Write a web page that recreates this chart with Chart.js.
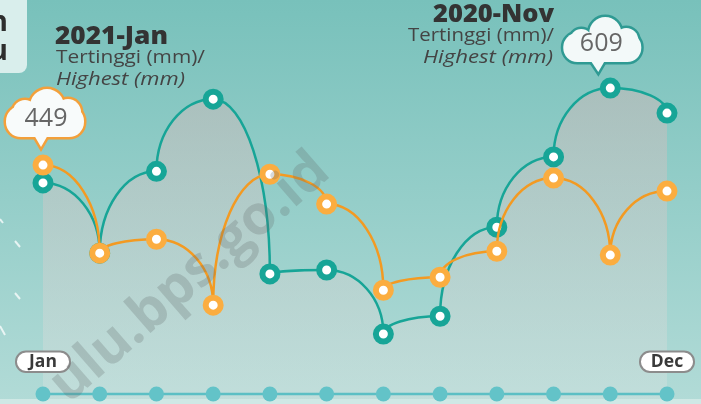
<!DOCTYPE html>
<html><head><meta charset="utf-8">
<script src="https://cdn.jsdelivr.net/npm/chart.js@4.4.1/dist/chart.umd.min.js"></script>
<style>html,body{margin:0;padding:0;background:#7cc3bd;overflow:hidden}#wrap{position:relative;width:701px;height:404px}</style>
</head><body><div id="wrap"><canvas id="c" width="701" height="404"></canvas></div>
<script>
// ---- data (mm) ----
const months = ['Jan','Feb','Mar','Apr','May','Jun','Jul','Aug','Sep','Oct','Nov','Dec'];
const highest2020 = [412, 266, 436, 586, 223, 231, 98, 135, 320, 466, 609, 557];   // teal
const highest2021 = [449, 266, 295, 158, 430, 368, 189, 216, 270, 422, 262, 395];   // orange
const yMin = -39, yMax = 792;

const FONT = '"Open Sans", "Noto Sans", sans-serif';
const TEAL = '#17a597', TEAL_PT = '#17a597';
const ORANGE = '#f39a22', ORANGE_PT = '#fbad40';

function rr(ctx,x,y,w,h,r){ctx.beginPath();ctx.moveTo(x+r,y);ctx.arcTo(x+w,y,x+w,y+h,r);ctx.arcTo(x+w,y+h,x,y+h,r);ctx.arcTo(x,y+h,x,y,r);ctx.arcTo(x,y,x+w,y,r);ctx.closePath();}

// draw text with a given cap height, stretched horizontally to a target width
function fitText(ctx,text,style,weight,capH,target,x,y,align,color){
  const size=capH/0.714;
  ctx.save();
  ctx.font=`${style} ${weight} ${size.toFixed(2)}px ${FONT}`;
  const w=ctx.measureText(text).width;
  const sx=target/w;
  ctx.translate(x,y);ctx.scale(sx,1);
  ctx.textAlign=align;ctx.textBaseline='alphabetic';ctx.fillStyle=color;
  ctx.fillText(text,0,0);
  ctx.restore();
}

function drawCloud(ctx,c,stroke,fill,lw){
  const shapes=[];
  shapes.push(()=>rr(ctx,c.body[0],c.body[1],c.body[2],c.body[3],c.body[4]));
  c.lobes.forEach(l=>shapes.push(()=>{ctx.beginPath();ctx.arc(l[0],l[1],l[2],0,Math.PI*2);}));
  shapes.push(()=>{ctx.beginPath();ctx.moveTo(c.tail[0][0],c.tail[0][1]);ctx.lineTo(c.tail[1][0],c.tail[1][1]);ctx.lineTo(c.tail[2][0],c.tail[2][1]);ctx.closePath();});
  ctx.save();
  ctx.lineWidth=lw*2;ctx.strokeStyle=stroke;ctx.lineJoin='miter';
  shapes.forEach(s=>{s();ctx.stroke();});
  ctx.fillStyle=fill;
  shapes.forEach(s=>{s();ctx.fill();});
  ctx.fillStyle='#666';ctx.font=`400 25px ${FONT}`;ctx.textAlign='center';ctx.textBaseline='middle';
  ctx.fillText(c.text,c.tx,c.ty);
  ctx.restore();
}

// curve each segment as a quarter-ellipse: horizontal tangent at the higher end, vertical at the lower
const arcPlugin={
  id:'arcSegments',
  beforeDraw(chart){
    chart.getSortedVisibleDatasetMetas().forEach(meta=>{
      const line=meta.dataset; if(!line) return;
      line.updateControlPoints(chart.chartArea,'x');
      const pts=meta.data, k=0.5523;
      for(let i=0;i<pts.length-1;i++){
        const a=pts[i], b=pts[i+1];
        const dx=b.x-a.x, dy=b.y-a.y;
        if(a.y<=b.y){ a.cp2x=a.x+k*dx; a.cp2y=a.y; b.cp1x=b.x; b.cp1y=b.y-k*dy; }
        else { a.cp2x=a.x; a.cp2y=a.y+k*dy; b.cp1x=b.x-k*dx; b.cp1y=b.y; }
      }
      line._path=undefined;
    });
  }
};

const bgPlugin={
  id:'bg',
  beforeDraw(chart){
    const ctx=chart.ctx,W=chart.width,H=chart.height;
    ctx.save();
    const g=ctx.createLinearGradient(0,0,0,H);
    g.addColorStop(0,'#78c1bb');g.addColorStop(1,'#b2dbd7');
    ctx.fillStyle=g;ctx.fillRect(0,0,W,H);
    ctx.strokeStyle='rgba(255,255,255,0.75)';ctx.lineWidth=2;ctx.lineCap='butt';
    [[0,219,3,223],[15,241,20,247],[15,293,20,299],[0,326,5,335]].forEach(d=>{ctx.beginPath();ctx.moveTo(d[0],d[1]);ctx.lineTo(d[2],d[3]);ctx.stroke();});
    ctx.restore();
  },
  afterDatasetsDraw(chart){
    const ctx=chart.ctx,x=chart.scales.x;
    ctx.save();
    ctx.fillStyle='#cfe8e5';ctx.fillRect(0,399,chart.width,chart.height-399);
    const x0=x.getPixelForValue(0),x1=x.getPixelForValue(months.length-1);
    ctx.strokeStyle='#5cbfc4';ctx.lineWidth=2.5;
    ctx.beginPath();ctx.moveTo(x0,394);ctx.lineTo(x1,394);ctx.stroke();
    ctx.fillStyle='#63c3c8';
    months.forEach((m,i)=>{ctx.beginPath();ctx.arc(x.getPixelForValue(i),394,7.5,0,Math.PI*2);ctx.fill();});
    // Jan / Dec pills
    [[0,'Jan'],[months.length-1,'Dec']].forEach(([i,t])=>{
      const cx=x.getPixelForValue(i);
      const w=54;
      rr(ctx,cx-w/2,351.5,w,20.5,10);
      ctx.fillStyle='#ffffff';ctx.fill();
      ctx.strokeStyle='#8c8c8c';ctx.lineWidth=2;ctx.stroke();
      ctx.fillStyle='#3a3a3a';ctx.textAlign='center';ctx.textBaseline='middle';
      ctx.font=`700 17.5px ${FONT}`;
      ctx.fillText(t,cx,362);
    });
    ctx.restore();
  },
  afterDraw(chart){
    const ctx=chart.ctx;
    ctx.save();
    // watermark
    ctx.save();
    ctx.translate(190,278);ctx.rotate(-41*Math.PI/180);
    ctx.font=`700 55px ${FONT}`;ctx.fillStyle='rgba(95,105,105,0.25)';
    ctx.textAlign='center';ctx.textBaseline='middle';
    ctx.fillText('ulu.bps.go.id',0,0);
    ctx.restore();
    // top-left box
    rr(ctx,-12,-12,39,85,8);ctx.fillStyle='#d9eeec';ctx.fill();
    ctx.fillStyle='#2e2e2e';ctx.font=`700 28px ${FONT}`;ctx.textAlign='right';ctx.textBaseline='alphabetic';
    ctx.fillText('n',8,31);ctx.fillText('u',8,60);
    // titles
    fitText(ctx,'2021-Jan','normal',800,18,113,55,44,'left','#333333');
    fitText(ctx,'Tertinggi (mm)/','normal',400,13,149,56,63,'left','#444444');
    fitText(ctx,'Highest (mm)','italic',400,13,129,56,85,'left','#444444');
    fitText(ctx,'2020-Nov','normal',800,17,121,554,22,'right','#333333');
    fitText(ctx,'Tertinggi (mm)/','normal',400,13,146,554,41,'right','#444444');
    fitText(ctx,'Highest (mm)','italic',400,13,130,553,63,'right','#444444');
    // clouds anchored to the data points
    const po=chart.getDatasetMeta(0).data[0];   // orange Jan
    const pt=chart.getDatasetMeta(1).data[10];  // teal Nov
    ctx.save();ctx.translate(po.x-43,po.y-165);
    drawCloud(ctx,{body:[6,106,78,31,15],lobes:[[25,112,12],[47,106,17],[68,112,13]],tail:[[34,135],[48,135],[41,147]],text:'449',tx:46,ty:119},'#f3a03b','#f8fbfb',2.5);
    ctx.restore();
    ctx.save();ctx.translate(pt.x-612,pt.y-88);
    drawCloud(ctx,{body:[565,33,78,29,14],lobes:[[583,40,11],[607,33,16],[628,40,12]],tail:[[592,60],[607,60],[600,72]],text:'609',tx:603,ty:44},'#2f9a93','#f3f9f9',2.5);
    ctx.restore();
    ctx.restore();
  }
};

const ctx=document.getElementById('c').getContext('2d');
new Chart(ctx,{
  type:'line',
  data:{
    labels:months,
    datasets:[
      {label:'2021',data:highest2021,borderColor:ORANGE,borderWidth:2.5,tension:0.4,fill:false,
       pointRadius:7.5,pointBorderWidth:6,pointBackgroundColor:'#ffffff',pointBorderColor:ORANGE_PT,pointHoverRadius:7.5,clip:false},
      {label:'2020',data:highest2020,borderColor:TEAL,borderWidth:2.5,tension:0.4,fill:'start',
       backgroundColor:(c)=>{const a=c.chart.chartArea;if(!a)return 'rgba(216,180,181,0.4)';
         const g=c.chart.ctx.createLinearGradient(0,80,0,400);
         g.addColorStop(0,'rgba(216,180,181,0.45)');g.addColorStop(1,'rgba(228,230,228,0.3)');return g;},
       pointRadius:7.5,pointBorderWidth:6,pointBackgroundColor:'#ffffff',pointBorderColor:TEAL_PT,pointHoverRadius:7.5,clip:false}
    ]
  },
  options:{
    responsive:false,animation:false,devicePixelRatio:1,
    layout:{autoPadding:false,padding:{left:43,right:34,top:0,bottom:4}},
    scales:{
      x:{type:'category',display:false,offset:false},
      y:{display:false,min:yMin,max:yMax}
    },
    plugins:{legend:{display:false},tooltip:{enabled:false}},
    events:[]
  },
  plugins:[bgPlugin,arcPlugin]
});
</script>
</body></html>
